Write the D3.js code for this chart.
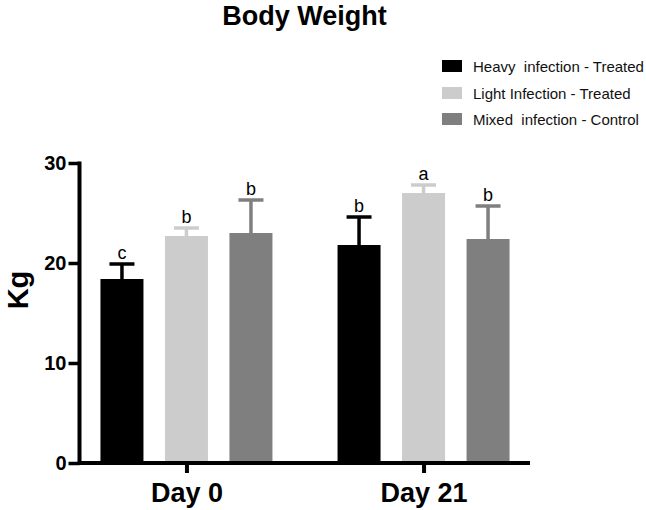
<!DOCTYPE html>
<html>
  <head>
    <meta charset="utf-8">
    <title>Body Weight</title>
    <style>
      body { margin: 0; background: #fff; }
      svg { display: block; font-family: Arial, "Liberation Sans", sans-serif; }
    </style>
    <script src="https://d3js.org/d3.v7.min.js"></script>
  </head>
  <body>
    <svg id="chart" width="646" height="510"></svg>
    <script>
      var days = ["Day 0", "Day 21"];
      var groups = ["Heavy  infection - Treated", "Light Infection - Treated", "Mixed  infection - Control"];
      var colors = ["#000000", "#cccccc", "#7f7f7f"];
      var means = [[18.4, 22.7, 23.0], [21.8, 27.0, 22.4]];
      var errors = [[1.5, 0.8, 3.3], [2.8, 0.8, 3.3]];
      var letters = [["c", "b", "b"], ["b", "a", "b"]];
      var yTicks = [0, 10, 20, 30];

      var svg = d3.select("#chart");

      var y = d3.scaleLinear().domain([0, 30]).range([463, 163]);
      var x0 = d3.scalePoint().domain(days).range([80, 530]).padding(0.449);
      var x1 = d3.scaleBand().domain(d3.range(groups.length)).range([-86, 86]).paddingInner(1 / 3);

      svg.append("text")
        .attr("x", 304.5).attr("y", 25)
        .attr("text-anchor", "middle")
        .style("font-size", "27px").style("font-weight", "bold")
        .text("Body Weight");

      // bars
      var rows = [];
      days.forEach(function(d, i) {
        groups.forEach(function(g, j) {
          rows.push({day: d, k: j, v: means[i][j], e: errors[i][j], l: letters[i][j]});
        });
      });

      var bar = svg.append("g").selectAll("g").data(rows).enter().append("g")
        .attr("transform", function(d) { return "translate(" + x0(d.day) + ",0)"; });

      bar.append("rect")
        .attr("x", function(d) { return x1(d.k); })
        .attr("width", x1.bandwidth())
        .attr("y", function(d) { return y(d.v); })
        .attr("height", function(d) { return y(0) - y(d.v); })
        .attr("fill", function(d) { return colors[d.k]; });

      bar.append("line")
        .attr("x1", function(d) { return x1(d.k) + x1.bandwidth() / 2; })
        .attr("x2", function(d) { return x1(d.k) + x1.bandwidth() / 2; })
        .attr("y1", function(d) { return y(d.v); })
        .attr("y2", function(d) { return y(d.v + d.e); })
        .attr("stroke", function(d) { return colors[d.k]; })
        .attr("stroke-width", 3.5);

      bar.append("line")
        .attr("x1", function(d) { return x1(d.k) + x1.bandwidth() / 2 - 12.5; })
        .attr("x2", function(d) { return x1(d.k) + x1.bandwidth() / 2 + 12.5; })
        .attr("y1", function(d) { return y(d.v + d.e); })
        .attr("y2", function(d) { return y(d.v + d.e); })
        .attr("stroke", function(d) { return colors[d.k]; })
        .attr("stroke-width", 3.5);

      bar.append("text")
        .attr("x", function(d) { return x1(d.k) + x1.bandwidth() / 2; })
        .attr("y", function(d) { return y(d.v + d.e) - 5; })
        .attr("text-anchor", "middle")
        .style("font-size", "18px")
        .text(function(d) { return d.l; });

      // axes
      var yAxis = svg.append("g")
        .attr("transform", "translate(79.5,0)")
        .call(d3.axisLeft(y).tickValues(yTicks).tickSize(11).tickSizeOuter(0).tickPadding(2));
      yAxis.select(".domain").attr("stroke-width", 4).attr("d", "M0," + (y(30) - 1.5) + "V" + (y(0) + 2));
      yAxis.selectAll(".tick line").attr("stroke-width", 3.5);
      yAxis.selectAll(".tick text")
        .style("font-size", "20px").style("font-weight", "bold")
        .style("font-family", "Arial, 'Liberation Sans', sans-serif").attr("fill", "#000");

      var xAxis = svg.append("g")
        .attr("transform", "translate(0,463)")
        .call(d3.axisBottom(x0).tickSize(10).tickSizeOuter(0).tickPadding(10));
      xAxis.select(".domain").attr("stroke-width", 4).attr("d", "M78,0H530");
      xAxis.selectAll(".tick line").attr("stroke-width", 4);
      xAxis.selectAll(".tick text")
        .style("font-size", "27px").style("font-weight", "bold")
        .style("font-family", "Arial, 'Liberation Sans', sans-serif").attr("fill", "#000");

      svg.append("text")
        .attr("transform", "translate(28,290) rotate(-90)")
        .attr("text-anchor", "middle")
        .style("font-size", "29px").style("font-weight", "bold")
        .text("Kg");

      // legend
      var legend = svg.append("g").selectAll("g").data(groups).enter().append("g")
        .attr("transform", function(d, i) { return "translate(442," + [66, 93, 119][i] + ")"; });
      legend.append("rect")
        .attr("x", 0).attr("y", -6).attr("width", 20).attr("height", 12)
        .attr("fill", function(d, i) { return colors[i]; });
      legend.append("text")
        .attr("x", 31).attr("y", 5.5)
        .style("font-size", "15px").attr("fill", "#111")
        .attr("xml:space", "preserve")
        .text(function(d) { return d; });
    </script>
  </body>
</html>
